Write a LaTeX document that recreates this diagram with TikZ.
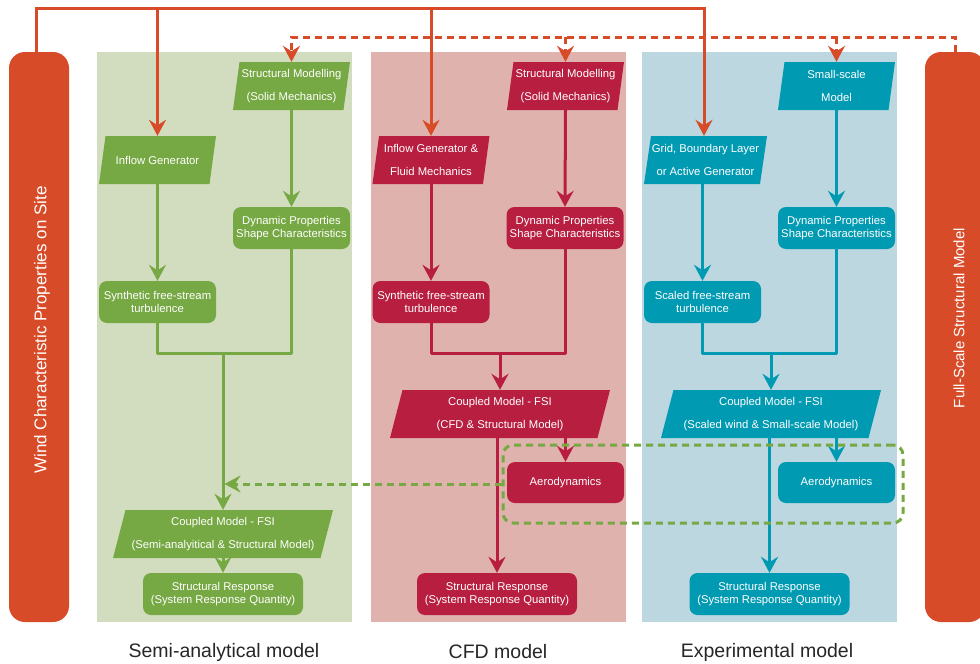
\documentclass[tikz,border=0pt]{standalone}
\usepackage{fontspec}
\setmainfont{Liberation Sans}
\usetikzlibrary{arrows.meta,calc}
\definecolor{orng}{RGB}{216,75,40}
\definecolor{gpanel}{RGB}{210,221,191}
\definecolor{rpanel}{RGB}{224,178,173}
\definecolor{bpanel}{RGB}{188,215,224}
\definecolor{gnode}{RGB}{118,168,67}
\definecolor{rnode}{RGB}{184,30,64}
\definecolor{bnode}{RGB}{0,154,178}
\newcommand\nfont{\fontsize{11.3}{12.3}\selectfont}
\tikzset{
  pskew/.store in=\pskew, pskew=6.5pt,
  para/.style={rectangle, minimum width=117pt, minimum height=48pt,
    inner sep=1pt, text=white, align=center, font=\nfont,
    path picture={\fill[#1]
      ([xshift=\pskew]path picture bounding box.north west) --
      (path picture bounding box.north east) --
      ([xshift=-\pskew]path picture bounding box.south east) --
      (path picture bounding box.south west) -- cycle;}},
  bigpara/.style={para=#1, pskew=12.5pt, minimum width=220pt},
  rbox/.style={rectangle, rounded corners=8pt, fill=#1, text=white, align=center,
    minimum width=117pt, minimum height=42pt, inner sep=1pt, font=\nfont},
  bar/.style={rectangle, rounded corners=16pt, fill=orng, minimum width=60pt,
    minimum height=570pt, inner sep=0pt},
  panel/.style={fill=#1, draw=none},
  tip/.style={-{Stealth[length=16pt,width=17pt,inset=5.5pt]}},
  conn/.style={draw=#1, line width=3pt},
  dconn/.style={draw=#1, line width=3pt, dash pattern=on 7pt off 5pt},
  caption/.style={font=\fontsize{19.5}{22}\selectfont, text=black!85},
}
\begin{document}
\begin{tikzpicture}[x=1pt,y=-1pt]
\useasboundingbox (0,0) rectangle (980,664);
% panels
\fill[panel=gpanel] (97,52) rectangle (352,622);
\fill[panel=rpanel] (371,52) rectangle (626,622);
\fill[panel=bpanel] (642,52) rectangle (897,622);
% side bars
\node[bar] (lbar) at (39,337) {};
\node[bar] (rbar) at (955,337) {};
\node[rotate=90, text=white, font=\fontsize{17}{20}\selectfont] (ltext) at (42,330) {Wind Characteristic Properties on Site};
\node[rotate=90, text=white, font=\fontsize{15}{18}\selectfont] (rtext) at (959,318) {Full-Scale Structural Model};
% green column
\node[para=gnode] (gIn) at (157.5,160) {Inflow Generator};
\node[para=gnode] (gStr) at (291.5,86) {Structural Modelling\\[11pt](Solid Mechanics)};
\node[rbox=gnode] (gDyn) at (291.5,228) {Dynamic Properties\\Shape Characteristics};
\node[rbox=gnode] (gSyn) at (157.5,302) {Synthetic free-stream\\turbulence};
\node[bigpara=gnode] (gCoup) at (223,534) {Coupled Model - FSI\\[11pt](Semi-analyitical \& Structural Model)};
\node[rbox=gnode, minimum width=160pt] (gResp) at (223,594) {Structural Response\\(System Response Quantity)};
% red column
\node[para=rnode] (rIn) at (431,160) {Inflow Generator \&\\[11pt]Fluid Mechanics};
\node[para=rnode] (rStr) at (565.5,86) {Structural Modelling\\[11pt](Solid Mechanics)};
\node[rbox=rnode] (rDyn) at (565,228) {Dynamic Properties\\Shape Characteristics};
\node[rbox=rnode] (rSyn) at (431,302) {Synthetic free-stream\\turbulence};
\node[bigpara=rnode] (rCoup) at (500,414) {Coupled Model - FSI\\[11pt](CFD \& Structural Model)};
\node[rbox=rnode, minimum height=41pt] (rAero) at (565.5,482.5) {Aerodynamics};
\node[rbox=rnode, minimum width=160pt] (rResp) at (497,594) {Structural Response\\(System Response Quantity)};
% blue column
\node[para=bnode, minimum width=123pt, pskew=7pt] (bIn) at (705.5,160) {Grid, Boundary Layer\\[11pt]or Active Generator};
\node[para=bnode] (bSmall) at (836.5,86) {Small-scale\\[11pt]Model};
\node[rbox=bnode] (bDyn) at (836.5,228) {Dynamic Properties\\Shape Characteristics};
\node[rbox=bnode] (bSyn) at (702.5,302) {Scaled free-stream\\turbulence};
\node[bigpara=bnode] (bCoup) at (771,414) {Coupled Model - FSI\\[11pt](Scaled wind \& Small-scale Model)};
\node[rbox=bnode, minimum height=41pt] (bAero) at (836.5,482.5) {Aerodynamics};
\node[rbox=bnode, minimum width=160pt] (bResp) at (769.5,594) {Structural Response\\(System Response Quantity)};
% junction and helper coordinates
\coordinate (otop) at (0,8);
\coordinate (dtop) at (0,37);
\coordinate (jg) at (223,353);
\coordinate (jr) at (500,353);
\coordinate (jb) at (771,353);
% orange solid lines
\draw[conn=orng, tip] ([xshift=-3pt]lbar.north) -- ([xshift=-3pt]lbar.north |- otop) -| ([xshift=-1.5pt]bIn.north);
\draw[conn=orng, tip] (gIn.north |- otop) -- (gIn.north);
\draw[conn=orng, tip] (rIn.north |- otop) -- (rIn.north);
% orange dashed lines
\draw[dconn=orng, tip] (rbar.north) -- (rbar.north |- dtop) -| (gStr.north);
\draw[dconn=orng, tip] (rStr.north |- dtop) -- (rStr.north);
\draw[dconn=orng, tip] (bSmall.north |- dtop) -- (bSmall.north);
% green connectors
\draw[conn=gnode, tip] (gIn.south) -- (gSyn.north);
\draw[conn=gnode, tip] (gStr.south) -- (gDyn.north);
\draw[conn=gnode, line join=round] (gSyn.south) -- (gSyn.south |- jg) -| (gDyn.south);
\draw[conn=gnode, tip] (jg) -- (gCoup.north);
\draw[conn=gnode, tip] (gCoup.south) -- (gResp.north);
% red connectors
\draw[conn=rnode, tip] (rIn.south) -- (rSyn.north);
\draw[conn=rnode, tip] (rStr.south) -- (rDyn.north);
\draw[conn=rnode, line join=round] (rSyn.south) -- (rSyn.south |- jr) -| (rDyn.south);
\draw[conn=rnode, tip] (jr) -- (rCoup.north);
\draw[conn=rnode, tip] (rCoup.south -| rAero.north) -- (rAero.north);
\draw[conn=rnode, tip] (rCoup.south -| rResp.north) -- (rResp.north);
% blue connectors
\draw[conn=bnode, tip] (bIn.south -| bSyn.north) -- (bSyn.north);
\draw[conn=bnode, tip] (bSmall.south) -- (bDyn.north);
\draw[conn=bnode, line join=round] (bSyn.south) -- (bSyn.south |- jb) -| (bDyn.south);
\draw[conn=bnode, tip] (jb) -- (bCoup.north);
\draw[conn=bnode, tip] (bCoup.south -| bAero.north) -- (bAero.north);
\draw[conn=bnode, tip] (bCoup.south -| bResp.north) -- (bResp.north);
% green dashed aerodynamics group
\node[dconn=gnode, rounded corners=10pt, minimum width=400pt, minimum height=78pt, inner sep=0pt] (aerobox) at (703,484) {};
\draw[dconn=gnode, tip, shorten >=1.5pt] (aerobox.west) -- (aerobox.west -| jg);
% captions
\node[caption] (cap1) at (224,652) {Semi-analytical model};
\node[caption] (cap2) at (498,652) {CFD model};
\node[caption] (cap3) at (767,652) {Experimental model};
\end{tikzpicture}
\end{document}
